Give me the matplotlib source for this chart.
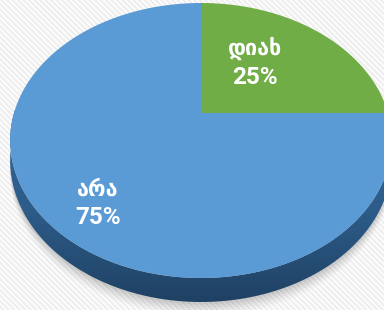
import numpy as np
import matplotlib
matplotlib.use("Agg")
import matplotlib.pyplot as plt
from matplotlib.patches import Polygon

labels = ["დიახ", "არა"]
values = [25, 75]
colors = ["#70ad47", "#5b9bd5"]
label_pos = [(255, 48, 77), (98, 190, 218)]  # x, y of name, y of percent

# projection of the tilted disc (pixel space)
cx, cy = 201, 113
R, S, k = 187, 132, 0.2
depth = 19.2


def project(t, z=0.0):
    X, Y = np.cos(t), np.sin(t)
    d = 1 + k * Y
    return cx + R * X / d, cy - S * Y / d + z / d


fig = plt.figure(figsize=(3.84, 3.10), dpi=100)
ax = fig.add_axes([0, 0, 1, 1])
ax.set_xlim(0, 384)
ax.set_ylim(310, 0)
ax.axis("off")

# faint diagonal stripes in the background
for s in np.arange(-400, 400, 5.5):
    ax.plot([s, s + 400], [0, 400], color="#eeeeee", lw=1.6, zorder=0)

t = np.linspace(0, 2 * np.pi, 400)

# soft shadow below the disc
for i, a in enumerate(np.linspace(0.08, 0.025, 7)):
    bx, by = project(t, depth + 2 + i)
    ax.fill(bx, by + i * 0.7, color="#707070", alpha=a, lw=0, zorder=1)

# side band
tf = np.linspace(np.pi * 0.98, 2 * np.pi * 1.01, 300)
tx, ty = project(tf)
bx, by = project(tf[::-1], depth)
side = Polygon(np.column_stack([np.r_[tx, bx], np.r_[ty, by]]), closed=True,
               facecolor="none", edgecolor="none", zorder=2)
ax.add_patch(side)
grad = np.linspace(0, 1, 100).reshape(-1, 1)
cmap = matplotlib.colors.LinearSegmentedColormap.from_list("side", ["#3566a0", "#2d5c89", "#1e3f60"])
im = ax.imshow(grad, extent=[0, 384, 310, 110], cmap=cmap, aspect="auto", zorder=2)
im.set_clip_path(side)

# top faces
start = np.pi / 2
total = sum(values)
for lab, val, col, (lx, ly1, ly2) in zip(labels, values, colors, label_pos):
    span = 2 * np.pi * val / total
    ts = np.linspace(start, start - span, 200)
    px, py = project(ts)
    ax.add_patch(Polygon(np.column_stack([np.r_[cx, px], np.r_[cy, py]]), closed=True,
                         facecolor=col, edgecolor="none", zorder=3))
    start -= span
    ax.text(lx, ly1, lab, color="white", fontsize=15.5, fontweight="bold",
            ha="center", va="center", family=["DejaVu Sans"], zorder=4)
    ax.text(lx, ly2, f"{val}%", color="white", fontsize=17.5, fontweight="bold",
            ha="center", va="center", family=["Roboto", "DejaVu Sans"], zorder=4)

fig.savefig("out.png", dpi=100)
